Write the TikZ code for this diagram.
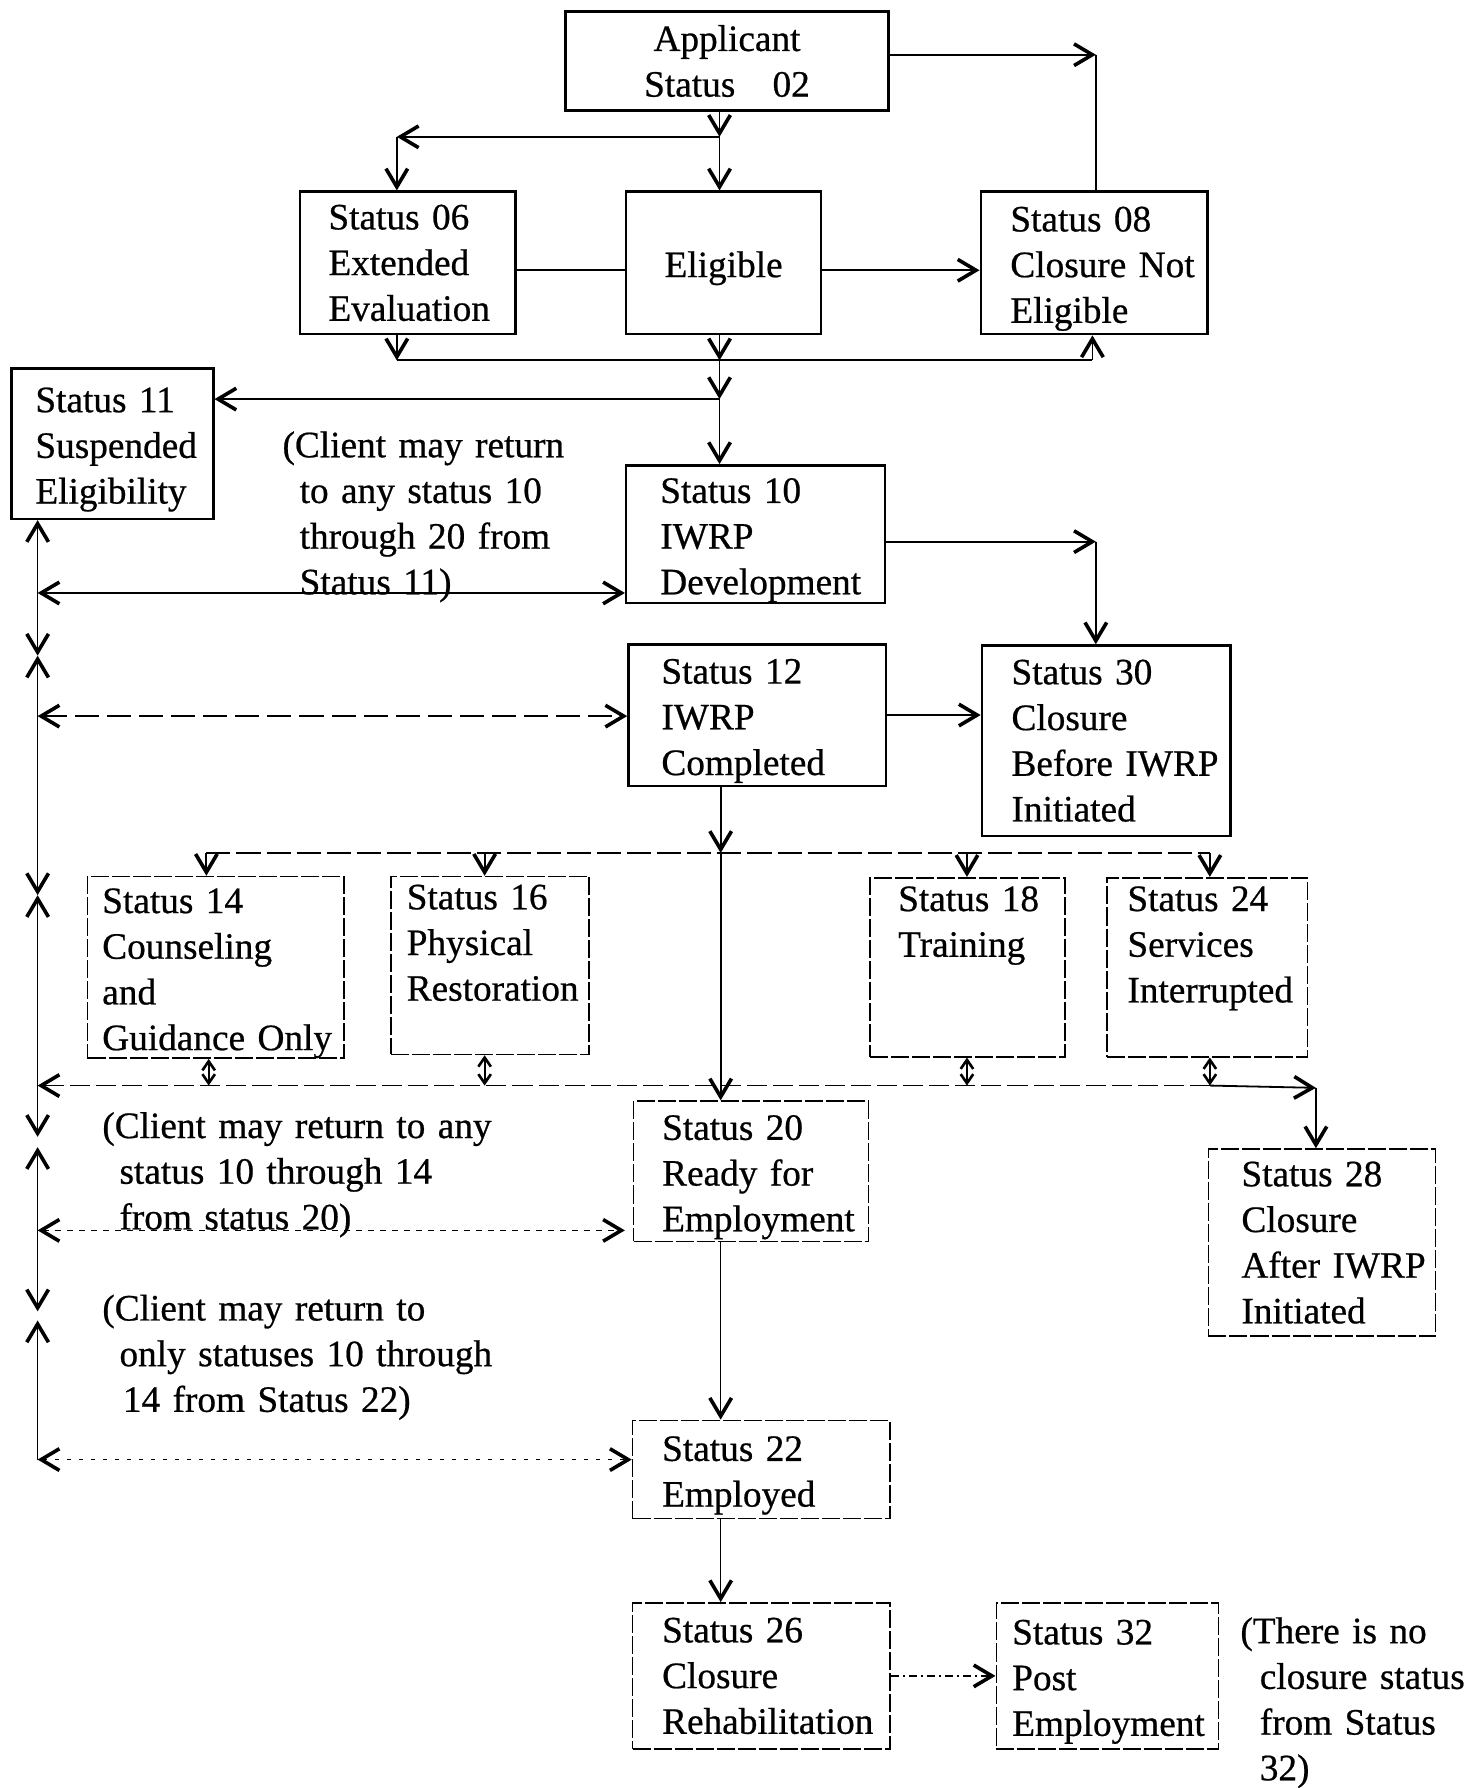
\documentclass[tikz,border=0pt]{standalone}
\usepackage{fontspec}
\setmainfont{Liberation Serif}[FakeBold=0.6]
\usetikzlibrary{arrows.meta}

\begin{document}
\hyphenpenalty=10000
\begin{tikzpicture}[scale=0.2, line width=0.9pt,
	>={Straight Barb[length=3.2mm,width=3.8mm,line width=1.8pt]}]
	\tikzstyle{every node}+=[inner sep=0pt]
	\tikzstyle{sbox}=[draw, line width=1.2pt, anchor=north west, align=left, font=\fontsize{18.6}{22.8}\selectfont]
	\tikzstyle{lbox}=[sbox, line width=0.8pt, dash pattern=on 9pt off 1.5pt]
	\tikzstyle{low}=[execute at begin node={\rule{0pt}{0.64cm}}]
	\tikzstyle{note}=[anchor=base west, align=left, text width=8cm, font=\fontsize{18.6}{22.8}\selectfont]
	\tikzstyle{small}=[>={Straight Barb[length=1.6mm,width=2.2mm,line width=1.3pt]}, <->]
	\useasboundingbox (0,0) rectangle (129.4,-156.8);
	% boxes
	\node [sbox, align=center, minimum width=5.66cm, minimum height=1.74cm] (app) at (49.5,-0.9) {Applicant\\Status\quad 02};
	\node [sbox, minimum width=3.78cm, minimum height=2.5cm, text width=2.78cm] (s06) at (26.2,-16.7) {Status~06\\Extended\\Evaluation};
	\node [sbox, low, align=center, minimum width=3.42cm, minimum height=2.5cm] (elig) at (54.8,-16.7) {Eligible};
	\node [sbox, low, minimum width=3.98cm, minimum height=2.5cm, text width=2.94cm] (s08) at (85.9,-16.7) {Status~08\\Closure~Not\\Eligible};
	\node [sbox, low, minimum width=3.54cm, minimum height=2.64cm, text width=2.7cm] (s11) at (0.9,-32.2) {Status~11\\Suspended\\Eligibility};
	\node [sbox, low, minimum width=4.54cm, minimum height=2.42cm, text width=3.34cm] (s10) at (54.8,-40.7) {Status~10\\IWRP\\Development};
	\node [sbox, low, minimum width=4.52cm, minimum height=2.48cm, text width=3.36cm] (s12) at (55.0,-56.4) {Status~12\\IWRP\\Completed};
	\node [sbox, minimum width=4.36cm, minimum height=3.34cm, text width=3.32cm] (s30) at (86.0,-56.5) {Status~30\\Closure\\Before~IWRP\\Initiated};
	\node [lbox, low, minimum width=4.5cm, minimum height=3.14cm, text width=3.98cm] (s14) at (7.6,-76.8) {Status~14\\Counseling\\and\\Guidance~Only};
	\node [lbox, minimum width=3.48cm, minimum height=3.12cm, text width=2.92cm] (s16) at (34.2,-76.8) {Status~16\\Physical\\Restoration\\~};
	\node [lbox, minimum width=3.42cm, minimum height=3.14cm, text width=2.42cm] (s18) at (76.2,-76.9) {Status~18\\Training\\~\\~};
	\node [lbox, minimum width=3.52cm, minimum height=3.14cm, text width=2.8cm] (s24) at (97.0,-76.9) {Status~24\\Services\\Interrupted\\~};
	\node [lbox, low, minimum width=4.12cm, minimum height=2.46cm, text width=3.12cm] (s20) at (55.5,-96.5) {Status~20\\Ready~for\\Employment};
	\node [lbox, minimum width=3.98cm, minimum height=3.28cm, text width=2.82cm] (s28) at (105.9,-100.7) {Status~28\\Closure\\After~IWRP\\Initiated};
	\node [lbox, low, minimum width=4.52cm, minimum height=1.72cm, text width=3.48cm] (s22) at (55.4,-124.5) {Status~22\\Employed};
	\node [lbox, minimum width=4.52cm, minimum height=2.56cm, text width=3.48cm] (s26) at (55.4,-140.5) {Status~26\\Closure\\Rehabilitation};
	\node [lbox, low, minimum width=3.9cm, minimum height=2.56cm, text width=3.34cm] (s32) at (87.3,-140.5) {Status~32\\Post\\Employment};
	% notes
	\node [note] (n11) at (24.7,-40.1) {(Client may return\\\hspace*{3mm}to any status 10\\\hspace*{3mm}through 20 from\\\hspace*{3mm}Status 11)};
	\node [note] (n20) at (8.9,-99.8) {(Client may return to any\\\hspace*{3mm}status 10 through 14\\\hspace*{3mm}from status 20)};
	\node [note] (n22) at (8.9,-115.8) {(Client may return to\\\hspace*{3mm}only statuses 10 through\\\hspace*{3.6mm}14 from Status 22)};
	\node [note] (n32) at (108.7,-144.1) {(There is no\\\hspace*{3.4mm}closure status\\\hspace*{3.4mm}from Status\\\hspace*{3.4mm}32)};
	% junctions
	\coordinate (j0) at (63.1,-12.0);
	\coordinate (j06) at (34.8,-12.0);
	\coordinate (e0) at (60.0,-23.7);
	\coordinate (k0) at (63.1,-31.6);
	\coordinate (k06) at (34.8,-31.6);
	\coordinate (k08) at (95.8,-31.6);
	\coordinate (m0) at (63.1,-35.0);
	\coordinate (c08) at (96.1,-4.8);
	\coordinate (c30) at (96.1,-47.5);
	\coordinate (n0) at (63.2,-74.8);
	\coordinate (n14) at (18.1,-74.8);
	\coordinate (n16) at (42.5,-74.8);
	\coordinate (n18) at (84.8,-74.8);
	\coordinate (n24) at (106.1,-74.8);
	\coordinate (p14) at (18.3,-95.2);
	\coordinate (p16) at (42.5,-95.2);
	\coordinate (p18) at (84.8,-95.2);
	\coordinate (p24) at (106.1,-95.2);
	\coordinate (c28) at (115.4,-95.4);
	\coordinate (q20) at (54.8,-107.9);
	% spine on the left
	\coordinate (sp10) at (3.3,-52.0);
	\coordinate (sp12) at (3.3,-62.8);
	\coordinate (sp95) at (3.3,-95.2);
	\coordinate (sp20) at (3.3,-107.9);
	\coordinate (sp22) at (3.3,-128.0);
	\coordinate (x1) at (3.3,-57.5);
	\coordinate (x2) at (3.3,-78.5);
	\coordinate (x3a) at (3.3,-99.7);
	\coordinate (x3b) at (3.3,-100.6);
	\coordinate (x4a) at (3.3,-115.0);
	\coordinate (x4b) at (3.3,-115.8);
	% top part
	\draw [->] (app.east |- c08) -- (c08);
	\draw (c08) -- (c08 |- s08.north);
	\draw [->] (j0 |- app.south) -- (j0);
	\draw [->] (j0) -- (j0 |- elig.north);
	\draw [->] (j0) -- (j06);
	\draw [->] (j06) -- (j06 |- s06.north);
	\draw (s06.east |- e0) -- (elig.west |- e0);
	\draw [->] (elig.east |- e0) -- (s08.west |- e0);
	\draw [->] (k06 |- s06.south) -- (k06);
	\draw [->] (k0 |- elig.south) -- (k0);
	\draw (k06) -- (k08);
	\draw [->] (k08) -- (k08 |- s08.south);
	\draw [->] (k0) -- (m0);
	\draw [->] (m0) -- (m0 -| s11.east);
	\draw [->] (m0) -- (m0 |- s10.north);
	\draw [->] (s10.east |- c30) -- (c30);
	\draw [->] (c30) -- (c30 |- s30.north);
	\draw [->] (s12.east) -- (s30.west |- s12.east);
	% middle part
	\draw [->] (n0 |- s12.south) -- (n0);
	\draw [dash pattern=on 12pt off 3pt] (n14) -- (n24);
	\draw [->] (n14) -- (n14 |- s14.north);
	\draw [->] (n16) -- (n16 |- s16.north);
	\draw [->] (n18) -- (n18 |- s18.north);
	\draw [->] (n24) -- (n24 |- s24.north);
	\draw [->] (n0) -- (n0 |- s20.north);
	\draw [small] (p14 |- s14.south) -- (p14);
	\draw [small] (p16 |- s16.south) -- (p16);
	\draw [small] (p18 |- s18.south) -- (p18);
	\draw [small] (p24 |- s24.south) -- (p24);
	\draw [->, dash pattern=on 10pt off 3pt] (p24) -- (sp95);
	\draw [->] (p24) -- (c28);
	\draw [->] (c28) -- (c28 |- s28.north);
	\draw [->, line width=0.7pt] (n0 |- s20.south) -- (n0 |- s22.north);
	\draw [->, line width=0.7pt] (n0 |- s22.south) -- (n0 |- s26.north);
	\draw [->, line width=0.7pt, dash pattern=on 4pt off 2pt on 1pt off 2pt] (s26.east) -- (s32.west);
	% spine
	\draw [->, line width=0.6pt] (sp10) -- (sp10 |- s11.south);
	\draw [<->] (sp10) -- (sp10 -| s10.west);
	\draw [->, line width=0.6pt] (sp10) -- (x1);
	\draw [->, line width=0.6pt] (sp12) -- (x1);
	\draw [<->, dash pattern=on 12pt off 4pt] (sp12) -- (sp12 -| s12.west);
	\draw [->, line width=0.6pt] (sp12) -- (x2);
	\draw [->, line width=0.6pt] (sp95) -- (x2);
	\draw [->, line width=0.6pt] (sp95) -- (x3a);
	\draw [->, line width=0.6pt] (sp20) -- (x3b);
	\draw [<->, line width=0.7pt, dash pattern=on 3pt off 3pt] (sp20) -- (q20);
	\draw [->, line width=0.6pt] (sp20) -- (x4a);
	\draw [->, line width=0.6pt] (sp22) -- (x4b);
	\draw [<->, line width=0.7pt, dash pattern=on 2pt off 4pt] (sp22) -- (sp22 -| s22.west);
\end{tikzpicture}
\end{document}
